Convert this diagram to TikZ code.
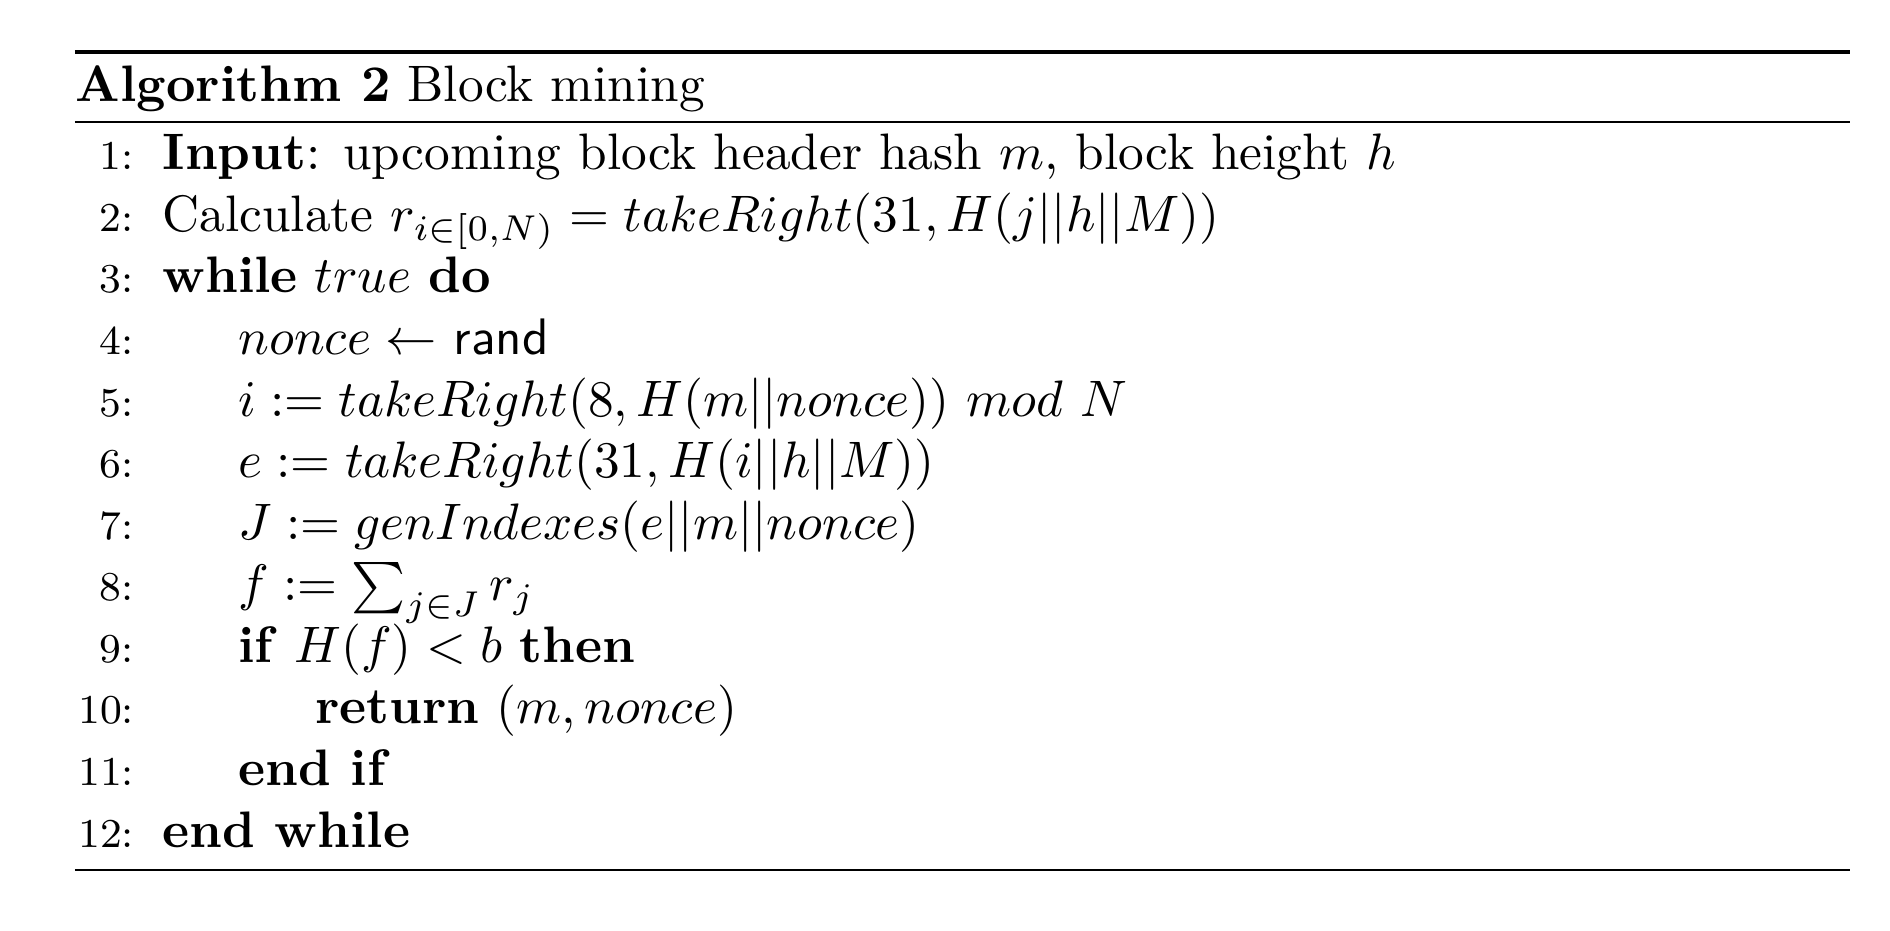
\documentclass[tikz,border=0pt]{standalone}
\usepackage{amsmath}
\usepackage{amssymb}
\usepackage{tikz}

\tikzset{
    algline/.style={anchor=base west, inner sep=0pt},
    algnum/.style={anchor=base east, inner sep=0pt, font=\footnotesize},
}

\begin{document}
\begin{tikzpicture}[x=1pt, y=1pt]
    \useasboundingbox (0,0) rectangle (368.4,181.3);

    % Rules
    \coordinate (topL) at (14.6,171.2);
    \coordinate (topR) at (360.6,171.2);
    \coordinate (midL) at (14.6,157.5);
    \coordinate (midR) at (360.6,157.5);
    \coordinate (botL) at (14.6,11.7);
    \coordinate (botR) at (360.6,11.7);
    \draw[line width=0.8pt] (topL) -- (topR);
    \draw[line width=0.4pt] (midL) -- (midR);
    \draw[line width=0.4pt] (botL) -- (botR);

    % Caption
    \node[algline] (caption) at (14.6,161.5) {\textbf{Algorithm 2} Block mining};

    % Line numbers
    \foreach \n in {1,...,12}
        \node[algnum] (num\n) at (26.3,{160.2-12*\n}) {\n:};

    % Lines
    \node[algline] (line1) at (31.5,148.2) {\textbf{Input}: upcoming block header hash $m$, block height $h$};
    \node[algline] (line2) at (31.5,136.2) {Calculate $r_{i\in[0,N)} = takeRight(31, H(j||h||M))$};
    \node[algline] (line3) at (31.5,124.2) {\textbf{while} $true$ \textbf{do}};
    \node[algline] (line4) at (46.3,112.2) {$nonce \leftarrow$ \textsf{rand}};
    \node[algline] (line5) at (46.3,100.2) {$i := takeRight(8, H(m||nonce))$ $mod$ $N$};
    \node[algline] (line6) at (46.3,88.2) {$e := takeRight(31, H(i||h||M))$};
    \node[algline] (line7) at (46.3,76.2) {$J := genIndexes(e||m||nonce)$};
    \node[algline] (line8) at (46.3,64.2) {$f := \sum_{j\in J} r_j$};
    \node[algline] (line9) at (46.3,52.2) {\textbf{if} $H(f) < b$ \textbf{then}};
    \node[algline] (line10) at (61.3,40.2) {\textbf{return} $(m, nonce)$};
    \node[algline] (line11) at (46.3,28.2) {\textbf{end if}};
    \node[algline] (line12) at (31.5,16.2) {\textbf{end while}};
\end{tikzpicture}
\end{document}
